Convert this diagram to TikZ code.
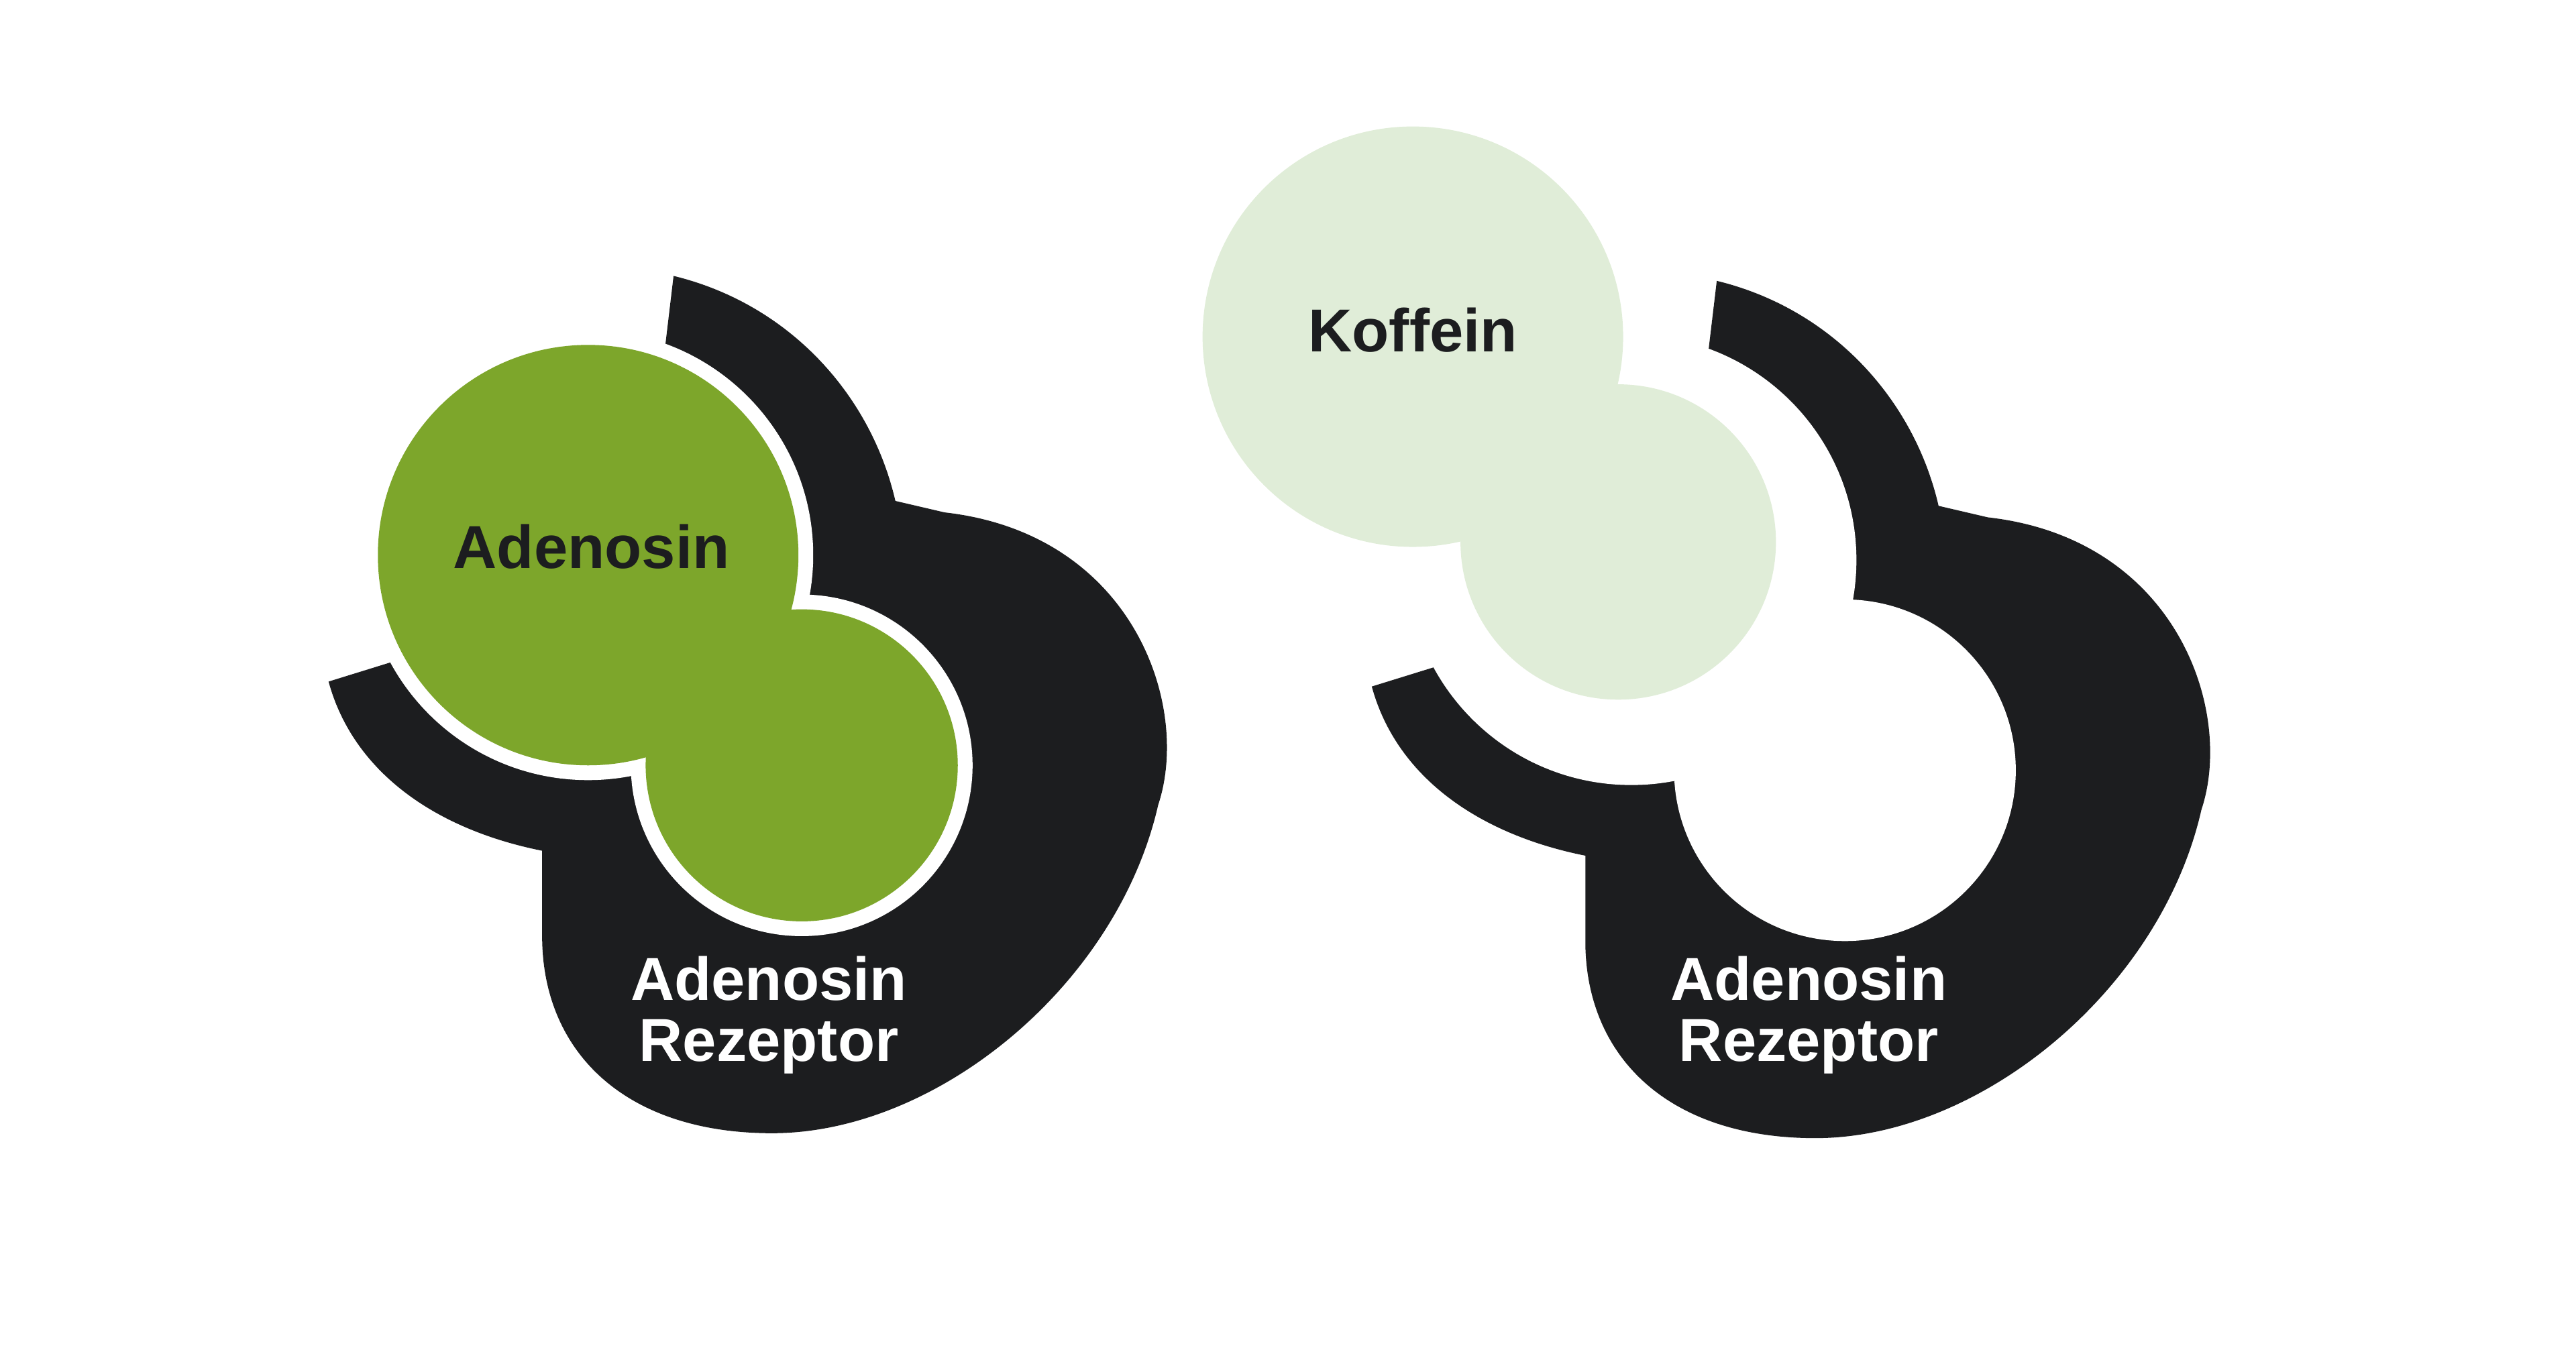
\documentclass[tikz,border=0pt]{standalone}
\usepackage{fontspec}
\setmainfont{Liberation Sans}
\usepackage{tikz}

\definecolor{recblack}{HTML}{1C1D1F}
\definecolor{adegreen}{HTML}{7DA62B}
\definecolor{koflight}{HTML}{E0EDD8}

\tikzset{
	receptor/.style={fill=recblack, draw=none},
	pocket/.style={fill=white, draw=none},
	label/.style={font=\bfseries\fontsize{10.5}{12.5}\selectfont, align=center},
}

\begin{document}
\begin{tikzpicture}[x=0.01cm, y=-0.01cm]

	\useasboundingbox (0,0) rectangle (1568,829);

	% receptors
	\foreach \dx/\dy/\name in {0/0/left, 635/3/right} {
		\begin{scope}[shift={(\dx,\dy)}]
			\path[receptor] (410,168) .. controls (480,185) and (530,240) .. (545,305)
				-- (575,312) .. controls (690,325) and (725,430) .. (705,490)
				.. controls (680,600) and (570,690) .. (470,690)
				.. controls (380,690) and (330,640) .. (330,570) -- (330,518)
				.. controls (265,505) and (215,470) .. (200,415) -- (242,402)
				-- (400,330) -- (405,210) -- cycle;
			\fill[pocket] (358,338) circle (137);
			\fill[pocket] (488,466) circle (104);
		\end{scope}
	}

	% adenosin bound to the left receptor
	\fill[adegreen] (358,338) circle (128);
	\fill[adegreen] (488,466) circle (95);

	% koffein, free
	\fill[koflight] (860,205) circle (128);
	\fill[koflight] (985,330) circle (96);

	\node[label, text=recblack] (ade) at (360,333) {Adenosin};
	\node[label, text=recblack] (kof) at (860,201) {Koffein};
	\node[label, text=white] (recl) at (468,618) {Adenosin\\[-2pt]Rezeptor};
	\node[label, text=white] (recr) at (1101,618) {Adenosin\\[-2pt]Rezeptor};

\end{tikzpicture}
\end{document}
